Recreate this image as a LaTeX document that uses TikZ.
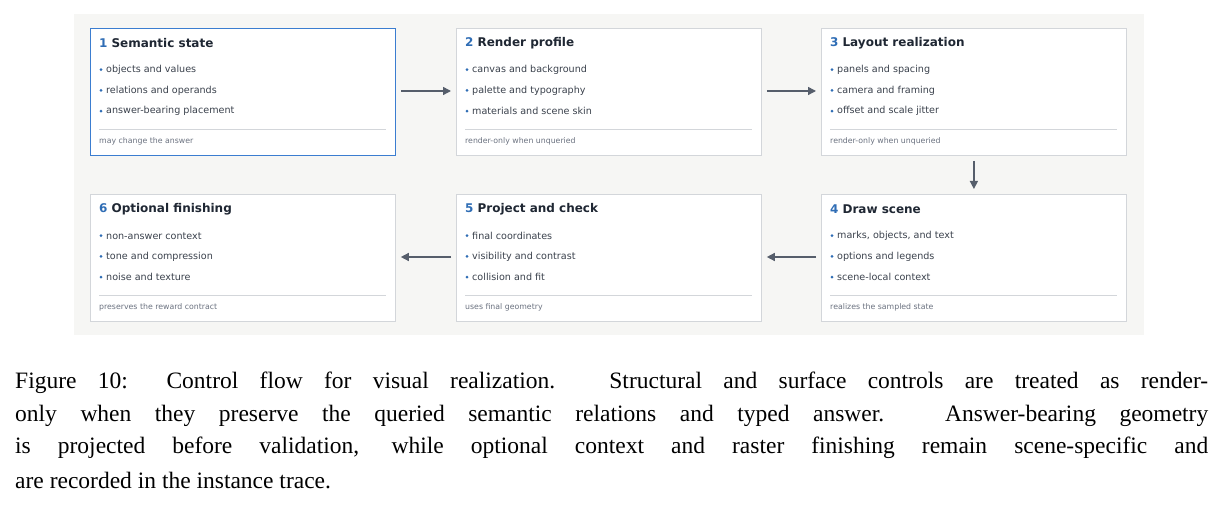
\documentclass[tikz,border=0pt]{standalone}
\usepackage{fontspec}
\setmainfont{Liberation Serif}
\newfontfamily\djv{DejaVu Sans}
\usetikzlibrary{arrows.meta}
\definecolor{bg}{HTML}{F6F6F4}
\definecolor{bd}{HTML}{D3D6DA}
\definecolor{bl}{HTML}{3B7DD0}
\definecolor{num}{HTML}{2F6DB5}
\definecolor{ttl}{HTML}{1F2733}
\definecolor{txt}{HTML}{3A414C}
\definecolor{ft}{HTML}{6B7280}
\definecolor{ar}{HTML}{565E6B}
\tikzset{x=1pt,y=-1pt,
 card/.style={draw=bd,fill=white,line width=0.8pt},
 ttlf/.style={anchor=west,font=\djv\bfseries\fontsize{12}{14}\selectfont,text=ttl,inner sep=0},
 itf/.style={anchor=west,font=\djv\fontsize{9.6}{12}\selectfont,text=txt,inner sep=0},
 ftf/.style={anchor=west,font=\djv\fontsize{7.8}{10}\selectfont,text=ft,inner sep=0},
 flow/.style={draw=ar,line width=1.4pt,-{Triangle[length=8pt,width=8pt]}},
 captxt/.style={anchor=west,inner sep=0,font=\fontsize{23.5}{28}\selectfont}}
\newcommand\mycard[9]{%
 \node[card,minimum width=305pt,minimum height=127pt,anchor=north west,inner sep=0,#9] (#1) at (#2,#3) {};
 \node[ttlf] at (#2+9,#3+15) {\textcolor{num}{#4}\hspace{4pt}#5};
 \foreach \t [count=\i] in {#6} {
   \node[itf] at (#2+16,#3+21+20.7*\i) {\t};
   \fill[num] (#2+11,#3+21+20.7*\i) circle (1.5pt);}
 \draw[bd,line width=0.8pt] (#2+9,#3+101) -- (#2+296,#3+101);
 \node[ftf] at (#2+9,#3+113) {#7};}
\begin{document}
\begin{tikzpicture}
\useasboundingbox (0,0) rectangle (1223,510);
\fill[bg] (74,14) rectangle (1144,335);
\mycard{a}{90}{28}{1}{Semantic state}{objects and values,relations and operands,answer-bearing placement}{may change the answer}{}{draw=bl,line width=1.1pt}
\mycard{b}{456}{28}{2}{Render profile}{canvas and background,palette and typography,materials and scene skin}{render-only when unqueried}{}{}
\mycard{c}{821}{28}{3}{Layout realization}{panels and spacing,camera and framing,offset and scale jitter}{render-only when unqueried}{}{}
\mycard{d}{821}{194}{4}{Draw scene}{{marks, objects, and text},options and legends,scene-local context}{realizes the sampled state}{}{}
\mycard{e}{456}{194}{5}{Project and check}{final coordinates,visibility and contrast,collision and fit}{uses final geometry}{}{}
\mycard{f}{90}{194}{6}{Optional finishing}{non-answer context,tone and compression,noise and texture}{preserves the reward contract}{}{}
\draw[flow] ([xshift=5pt,yshift=-63pt]a.north east) -- ([xshift=-5pt,yshift=-63pt]b.north west);
\draw[flow] ([xshift=5pt,yshift=-63pt]b.north east) -- ([xshift=-5pt,yshift=-63pt]c.north west);
\draw[flow] ([yshift=-5pt]c.south) -- ([yshift=5pt]d.north);
\draw[flow] ([xshift=-5pt,yshift=-63pt]d.north west) -- ([xshift=5pt,yshift=-63pt]e.north east);
\draw[flow] ([xshift=-5pt,yshift=-63pt]e.north west) -- ([xshift=5pt,yshift=-63pt]f.north east);
\node[captxt] (l1) at (15,383) {\makebox[1193pt][s]{Figure 10: Control flow for visual realization. Structural and surface controls are treated as render-}};
\node[captxt] (l2) at (15,415.5) {\makebox[1193pt][s]{only when they preserve the queried semantic relations and typed answer. Answer-bearing geometry}};
\node[captxt] (l3) at (15,448) {\makebox[1193pt][s]{is projected before validation, while optional context and raster finishing remain scene-specific and}};
\node[captxt] (l4) at (15,480.5) {are recorded in the instance trace.};
\end{tikzpicture}
\end{document}
